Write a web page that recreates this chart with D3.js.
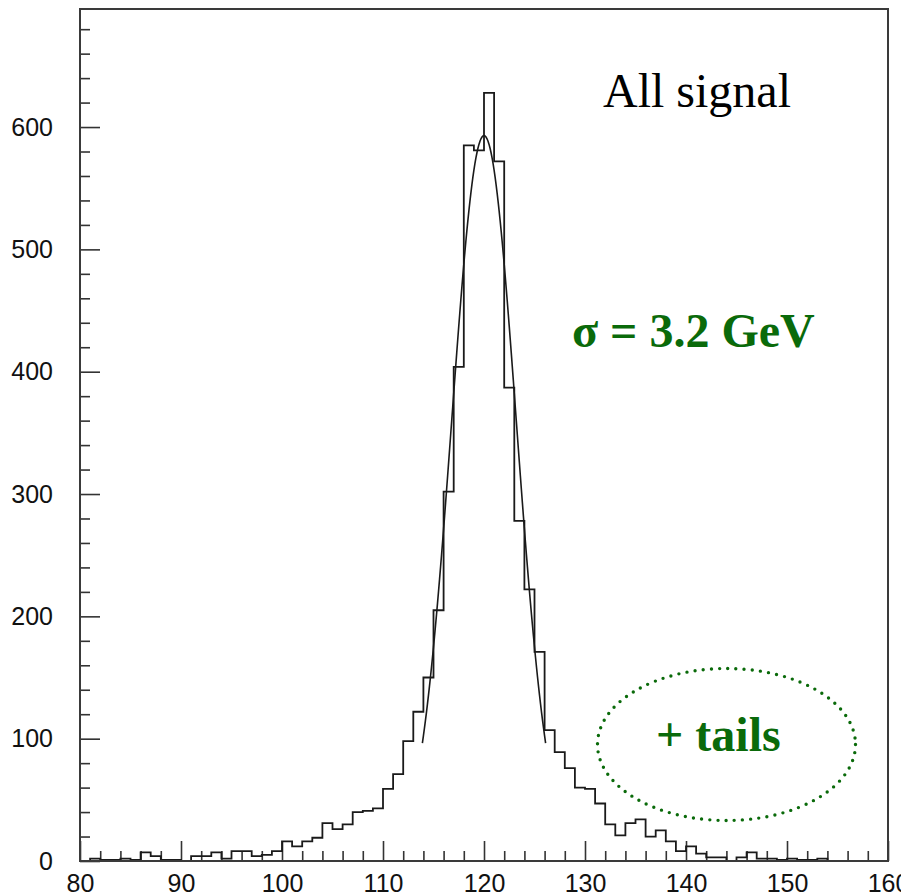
<!DOCTYPE html>
<html>
<head>
<meta charset="utf-8">
<script src="https://cdn.jsdelivr.net/npm/d3@7"></script>
<style>
  html, body { margin: 0; padding: 0; background: #fff; }
  svg { display: block; }
  .tick text { font-family: "Liberation Sans", Arial, sans-serif; font-size: 25px; fill: #111; }
</style>
</head>
<body>
<svg id="chart" width="901" height="896"></svg>
<script>
// Invariant mass histogram, 1 GeV bins starting at 80 GeV
const binStart = 80;
const binWidth = 1;
const counts = [
  0, 2, 1, 1, 2, 1, 7, 4, 1, 1,          // 80-89
  0, 4, 4, 7, 2, 8, 8, 4, 5, 8,          // 90-99
  16, 12, 16, 19, 31, 26, 30, 40, 41, 43, // 100-109
  59, 71, 98, 122, 150, 205, 302, 404, 585, 581, // 110-119
  628, 572, 387, 278, 222, 171, 107, 89, 76, 60, // 120-129
  59, 47, 30, 21, 31, 34, 20, 25, 16, 8, // 130-139
  12, 6, 3, 3, 0, 3, 7, 2, 2, 1,        // 140-149
  2, 1, 1, 2, 0, 0, 0, 0, 0, 0          // 150-159
];

// Gaussian fit to the core of the peak
const fitAmplitude = 593;
const fitMean = 120;
const fitSigma = 3.2;
const fitRange = [113.9, 126.1];

// Axis ticks
const xMajorTicks = [80, 90, 100, 110, 120, 130, 140, 150, 160];
const yMajorTicks = [0, 100, 200, 300, 400, 500, 600];

// Annotations
const titleText = "All signal";
const sigmaText = "\u03c3 = 3.2 GeV";
const tailsText = "+ tails";

(function draw() {
  const svg = d3.select("#chart");
  const frame = { left: 80, right: 888, top: 9, bottom: 861 };
  const green = "#0a6a0a";

  const x = d3.scaleLinear().domain([80, 160]).range([frame.left, frame.right]);
  const y = d3.scaleLinear().domain([0, 696.5]).range([frame.bottom, frame.top]);

  // Minor ticks every 2 GeV / 20 entries
  const xMinor = d3.range(80, 161, 2).filter(v => v % 10 !== 0);
  const yMinor = d3.range(0, 697, 20).filter(v => v % 100 !== 0);

  const styleTicks = g => {
    g.select(".domain").remove();
    g.selectAll("line").attr("stroke", "#333").attr("stroke-width", 1.6);
  };

  svg.append("g")
    .attr("transform", `translate(0,${frame.bottom})`)
    .call(d3.axisBottom(x).tickValues(xMinor).tickSize(-10).tickFormat(""))
    .call(styleTicks);

  svg.append("g")
    .attr("transform", `translate(0,${frame.bottom})`)
    .call(d3.axisBottom(x).tickValues(xMajorTicks).tickSize(-20).tickPadding(13).tickFormat(d3.format("d")))
    .call(styleTicks);

  svg.append("g")
    .attr("transform", `translate(${frame.left},0)`)
    .call(d3.axisLeft(y).tickValues(yMinor).tickSize(-10).tickFormat(""))
    .call(styleTicks);

  svg.append("g")
    .attr("transform", `translate(${frame.left},0)`)
    .call(d3.axisLeft(y).tickValues(yMajorTicks).tickSize(-20).tickPadding(27).tickFormat(d3.format("d")))
    .call(styleTicks);

  // Histogram as a stepped outline
  const bins = counts.map((c, i) => ({ x0: binStart + i * binWidth, x1: binStart + (i + 1) * binWidth, c }));
  const pts = [[x(binStart), y(0)]];
  bins.forEach(b => { pts.push([x(b.x0), y(b.c)]); pts.push([x(b.x1), y(b.c)]); });
  pts.push([x(binStart + counts.length * binWidth), y(0)]);
  svg.append("path")
    .attr("d", d3.line()(pts))
    .attr("fill", "none")
    .attr("stroke", "#1a1a1a")
    .attr("stroke-width", 1.8)
    .attr("stroke-linejoin", "miter");

  // Fitted Gaussian
  const fitPts = d3.range(fitRange[0], fitRange[1] + 1e-9, 0.1).map(v =>
    [v, fitAmplitude * Math.exp(-((v - fitMean) ** 2) / (2 * fitSigma * fitSigma))]);
  svg.append("path")
    .attr("d", d3.line().x(d => x(d[0])).y(d => y(d[1]))(fitPts))
    .attr("fill", "none")
    .attr("stroke", "#1a1a1a")
    .attr("stroke-width", 1.6);

  // Frame
  svg.append("rect")
    .attr("x", frame.left).attr("y", frame.top)
    .attr("width", frame.right - frame.left).attr("height", frame.bottom - frame.top)
    .attr("fill", "none").attr("stroke", "#3a3a3a").attr("stroke-width", 2);

  // Annotations
  svg.append("text")
    .attr("x", 603).attr("y", 107)
    .attr("font-family", "'Liberation Serif', 'Times New Roman', serif")
    .attr("font-size", 48).attr("fill", "#000")
    .text(titleText);

  svg.append("text")
    .attr("x", 572).attr("y", 347)
    .attr("font-family", "'Liberation Serif', 'Times New Roman', serif")
    .attr("font-weight", "bold")
    .attr("font-size", 48).attr("fill", green)
    .text(sigmaText);

  svg.append("ellipse")
    .attr("cx", 726.5).attr("cy", 744.5).attr("rx", 129).attr("ry", 76)
    .attr("fill", "none").attr("stroke", green)
    .attr("stroke-width", 3.4).attr("stroke-linecap", "round")
    .attr("stroke-dasharray", "0 8.2");

  svg.append("text")
    .attr("x", 656).attr("y", 751)
    .attr("font-family", "'Liberation Serif', 'Times New Roman', serif")
    .attr("font-weight", "bold")
    .attr("font-size", 48).attr("fill", green)
    .text(tailsText);
})();
</script>
</body>
</html>
